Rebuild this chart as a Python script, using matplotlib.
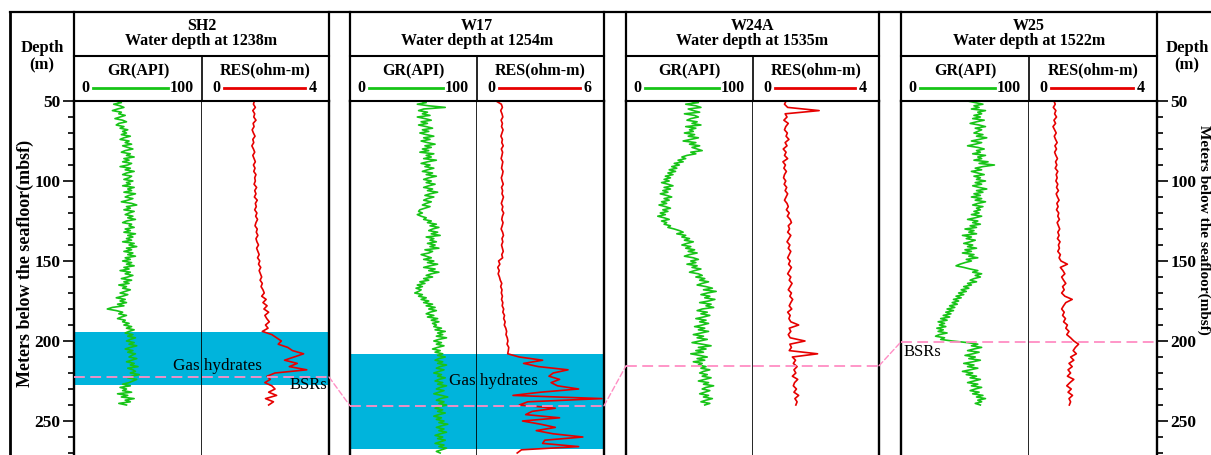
import numpy as np
import matplotlib.pyplot as plt
from matplotlib.patches import ConnectionPatch
from matplotlib.ticker import MultipleLocator

plt.rcParams['font.family'] = ['Liberation Serif', 'DejaVu Serif']
plt.rcParams['font.weight'] = 'bold'

# ---------------- data ----------------
wells = ['SH2', 'W17', 'W24A', 'W25']
water_depth = [1238, 1254, 1535, 1522]
res_max = [4, 6, 4, 4]
bsr_depth = [222.5, 240.5, 215.5, 200.5]
hydrate_top = [194.5, 208.0, None, None]
hydrate_base = [227.5, 267.5, None, None]

# GR sampled every 1 m, RES every 2 m (mbsf)
gr_depth_sh2 = np.arange(50, 241)
gr_depth_w17 = np.arange(50, 271)
gr_depth_w24a = np.arange(50, 241)
gr_depth_w25 = np.arange(50, 241)
res_depth_sh2 = np.arange(50, 241, 2)
res_depth_w17 = np.arange(50, 271, 2)
res_depth_w24a = np.arange(50, 241, 2)
res_depth_w25 = np.arange(50, 241, 2)

gr_sh2 = [33, 37, 31, 36, 39, 34, 30, 37, 35, 40,
          36, 32, 38, 41, 35, 33, 39, 36, 42, 38,
          41, 37, 44, 39, 36, 43, 40, 45, 38, 42,
          46, 40, 37, 44, 41, 47, 39, 43, 38, 45,
          42, 36, 44, 40, 47, 41, 38, 45, 43, 39,
          46, 41, 44, 38, 47, 42, 45, 39, 48, 43,
          40, 46, 42, 37, 45, 49, 41, 44, 39, 47,
          43, 40, 46, 42, 48, 41, 38, 45, 43, 47,
          40, 44, 39, 48, 42, 46, 41, 45, 38, 47,
          43, 49, 41, 45, 39, 46, 42, 48, 40, 44,
          38, 45, 41, 47, 39, 43, 36, 44, 40, 46,
          42, 37, 45, 39, 43, 35, 41, 38, 44, 40,
          36, 42, 38, 33, 40, 36, 41, 34, 39, 30,
          26, 33, 38, 35, 41, 37, 34, 40, 38, 43,
          39, 45, 41, 47, 43, 40, 46, 42, 48, 44,
          41, 47, 43, 49, 44, 40, 46, 42, 48, 45,
          43, 49, 45, 41, 47, 44, 50, 42, 46, 48,
          44, 51, 45, 42, 49, 46, 43, 38, 44, 36,
          41, 38, 45, 34, 42, 37, 47, 40, 44, 35,
          41]
res_sh2 = [1.65, 1.62, 1.68, 1.60, 1.66, 1.63, 1.70, 1.61, 1.64, 1.58,
           1.62, 1.67, 1.60, 1.63, 1.57, 1.62, 1.66, 1.60, 1.64, 1.68,
           1.62, 1.67, 1.63, 1.70, 1.66,
           1.68, 1.64, 1.72, 1.66, 1.70, 1.65, 1.74, 1.68, 1.71, 1.66,
           1.73, 1.69, 1.75, 1.70, 1.67, 1.74, 1.71, 1.76, 1.70, 1.73,
           1.78, 1.72, 1.76, 1.80, 1.75,
           1.82, 1.78, 1.85, 1.80, 1.84, 1.88, 1.83, 1.90, 1.86, 1.92,
           1.96, 1.88, 2.02, 1.92, 2.05, 1.95, 2.10, 1.98, 2.04, 2.12, 2.00, 2.08,
           1.90, 2.20, 2.35, 2.50, 2.40, 2.70, 2.85, 3.20, 2.90, 2.60, 3.00, 2.75, 3.30, 2.30,
           2.05, 2.15, 1.98, 2.20, 2.30, 2.10, 2.35, 2.00, 2.25, 2.10]

gr_w17 = [56, 60, 53, 62, 75, 58, 54, 61, 57, 63,
          53, 59, 64, 56, 61, 54, 60, 65, 57, 62,
          55, 60, 66, 58, 63, 56, 61, 67, 59, 64,
          57, 62, 55, 66, 60, 64, 58, 68, 61, 56,
          63, 59, 66, 61, 57, 65, 60, 68, 62, 58,
          64, 60, 67, 62, 58, 65, 61, 69, 63, 59,
          66, 61, 58, 64, 60, 57, 63, 59, 55, 54,
          57, 53, 56, 60, 58, 64, 61, 68, 63, 70,
          65, 62, 69, 64, 71, 60, 66, 63, 68, 61,
          67, 63, 70, 59, 65, 62, 56, 60, 64, 58,
          66, 61, 69, 63, 58, 67, 62, 70, 64, 60,
          65, 58, 62, 55, 59, 53, 57, 52, 56, 54,
          51, 57, 54, 60, 56, 62, 58, 65, 60, 67,
          62, 68, 63, 60, 66, 61, 69, 64, 70, 65,
          68, 66, 72, 67, 75, 69, 73, 68, 76, 70,
          66, 72, 68, 74, 69, 65, 71, 67, 73, 69,
          75, 70, 67, 73, 69, 76, 71, 68, 74, 70,
          66, 72, 69, 75, 70, 67, 73, 69, 76, 71,
          68, 74, 70, 66, 72, 77, 71, 68, 74, 70,
          76, 71, 67, 73, 69, 75, 70, 66, 72, 68,
          74, 70, 77, 72, 68, 74, 70, 76, 71, 67,
          73, 69, 75, 71, 67, 74, 70, 76, 72, 68,
          71]
res_w17 = [0.90, 1.15, 1.20, 1.12, 1.18, 1.22, 1.14, 1.20, 1.16, 1.23,
           1.18, 1.13, 1.20, 1.17, 1.24, 1.15, 1.21, 1.18, 1.14, 1.22,
           1.19, 1.16, 1.23, 1.20, 1.15,
           1.19, 1.24, 1.16, 1.21, 1.18, 1.25, 1.20, 1.15, 1.22, 1.18,
           1.26, 1.20, 1.17, 1.23, 1.19, 1.14, 1.21, 1.25, 1.18, 1.22,
           1.16, 1.20, 1.24, 1.17, 1.21,
           1.02, 1.08, 0.98, 1.05, 1.00, 1.06, 1.10, 1.17, 1.12, 1.18,
           1.15, 1.20, 1.16, 1.22, 1.19, 1.26, 1.22, 1.30, 1.26, 1.33,
           1.29, 1.36, 1.40, 1.37, 1.43,
           1.46, 1.42, 1.50, 1.48,
           1.45, 2.0, 3.1, 2.2, 2.9, 4.3, 3.6, 3.4, 3.9, 3.5, 3.8, 4.8,
           3.0, 1.7, 5.9, 2.4, 2.0, 3.7, 2.6, 2.3, 3.9, 2.15, 3.0, 3.7,
           2.8, 3.6, 5.0, 3.2, 3.1, 4.8, 2.1, 1.9]

gr_w24a = [50, 57, 47, 55, 59, 49, 53, 58, 46, 54,
           57, 51, 48, 56, 52, 59, 47, 55, 50, 53,
           46, 54, 49, 57, 51, 45, 55, 50, 58, 52,
           56, 60, 51, 55, 48, 44, 47, 41, 45, 38,
           42, 36, 40, 34, 39, 33, 37, 31, 35, 30,
           34, 28, 33, 37, 30, 35, 29, 33, 27, 32,
           36, 30, 34, 28, 32, 26, 31, 35, 29, 33,
           27, 31, 25, 30, 34, 28, 32, 30, 35, 33,
           38, 42, 45, 40, 47, 44, 50, 46, 53, 48,
           44, 51, 47, 54, 49, 56, 50, 46, 53, 57,
           51, 55, 48, 56, 52, 59, 54, 50, 57, 60,
           55, 62, 58, 65, 60, 56, 63, 68, 61, 71,
           64, 59, 66, 62, 70, 65, 58, 67, 63, 69,
           60, 56, 64, 59, 66, 61, 55, 63, 58, 65,
           60, 54, 62, 57, 65, 59, 53, 61, 56, 64,
           58, 52, 60, 67, 57, 63, 55, 61, 51, 58,
           64, 56, 62, 53, 60, 57, 63, 59, 66, 61,
           58, 64, 60, 67, 62, 57, 65, 61, 69, 63,
           60, 66, 62, 58, 65, 61, 68, 63, 59, 66,
           62]
res_w24a = [1.05, 1.00, 1.10, 2.10, 1.02, 1.08, 0.98, 1.12, 1.04, 1.00,
            1.09, 1.05, 1.14, 1.02, 1.08, 0.96, 1.05, 1.00, 1.10, 0.95,
            1.03, 0.98, 1.06, 1.00, 0.97,
            1.04, 0.99, 1.07, 1.02, 1.10, 1.05, 1.00, 1.08, 1.12, 1.06,
            1.15, 1.09, 1.18, 1.22, 1.12, 1.16, 1.10, 1.20, 1.14, 1.08,
            1.17, 1.12, 1.20, 1.15, 1.10,
            1.18, 1.13, 1.22, 1.16, 1.10, 1.20, 1.15, 1.24, 1.18, 1.12,
            1.22, 1.17, 1.26, 1.20, 1.15, 1.23, 1.10, 1.18, 1.14, 1.20,
            1.45, 1.15, 1.20, 1.12, 1.18, 1.65, 1.17, 1.22, 1.15, 2.05, 1.25,
            1.35, 1.28, 1.40, 1.30, 1.36, 1.25, 1.42, 1.32, 1.28, 1.38,
            1.30, 1.45, 1.33, 1.40, 1.36]

gr_w25 = [52, 58, 64, 57, 61, 55, 66, 60, 63, 57,
          62, 56, 65, 59, 54, 61, 66, 58, 63, 60,
          57, 64, 59, 67, 61, 55, 63, 58, 52, 60,
          65, 59, 62, 56, 66, 60, 63, 57, 68, 61,
          73, 64, 58, 63, 55, 60, 65, 57, 62, 59,
          66, 58, 63, 56, 61, 67, 59, 64, 57, 62,
          55, 63, 58, 66, 60, 56, 64, 59, 62, 57,
          61, 55, 63, 58, 52, 60, 56, 62, 54, 59,
          50, 57, 53, 59, 48, 55, 51, 58, 54, 49,
          56, 52, 59, 50, 55, 48, 57, 53, 60, 51,
          55, 50, 46, 43, 49, 54, 60, 56, 63, 58,
          62, 57, 54, 59, 52, 55, 49, 53, 47, 51,
          45, 49, 43, 47, 41, 45, 40, 44, 38, 42,
          36, 41, 35, 39, 33, 38, 31, 36, 29, 34,
          30, 35, 28, 33, 29, 36, 30, 27, 34, 31,
          40, 52, 60, 55, 63, 57, 52, 61, 56, 50,
          58, 53, 62, 56, 49, 57, 52, 60, 54, 48,
          56, 51, 59, 54, 62, 57, 52, 60, 55, 63,
          58, 54, 61, 56, 64, 59, 66, 60, 63, 58,
          62]
res_w25 = [0.78, 0.82, 0.76, 0.84, 0.80, 0.86, 0.78, 0.83, 0.75, 0.80,
           0.85, 0.79, 0.83, 0.88, 0.81, 0.86, 0.80, 0.84, 0.89, 0.83,
           0.87, 0.82, 0.90, 0.85, 0.88,
           0.84, 0.90, 0.86, 0.92, 0.85, 0.89, 0.94, 0.87, 0.91, 0.86,
           0.93, 0.90, 0.95, 0.88, 0.92, 0.96, 0.90, 0.94, 0.89, 0.97,
           0.92, 0.95, 0.90, 0.98, 0.94,
           1.00, 1.20, 0.98, 1.06, 1.12, 1.02, 1.08, 1.15, 1.05, 1.10,
           1.02, 1.12, 1.35, 1.15, 1.08, 1.02, 1.10, 1.05, 1.14, 1.08,
           1.20, 1.15, 1.25, 1.18, 1.30,
           1.40, 1.55, 1.45, 1.38, 1.48, 1.30, 1.40, 1.25, 1.35, 1.22,
           1.30, 1.20, 1.40, 1.28, 1.18, 1.32, 1.22, 1.36, 1.25, 1.30, 1.26]

gr_depths = [gr_depth_sh2, gr_depth_w17, gr_depth_w24a, gr_depth_w25]
res_depths = [res_depth_sh2, res_depth_w17, res_depth_w24a, res_depth_w25]
grs = [gr_sh2, gr_w17, gr_w24a, gr_w25]
ress = [res_sh2, res_w17, res_w24a, res_w25]

# ---------------- layout (pixels) ----------------
W, H = 1211, 455
TOP, HEAD1, HEAD2 = 12, 56, 101
panels = [(74, 202, 329), (350, 477, 604), (626, 753, 879), (901, 1029, 1157)]
d_top = 50
d_bot = 50 + (H - HEAD2) / 1.6

GREEN = '#17c417'
RED = '#e60000'
BLUE = '#00b4dc'
PINK = '#ff8ec4'


def frac(x0, y0, x1, y1):
    return [x0 / W, 1 - y1 / H, (x1 - x0) / W, (y1 - y0) / H]


fig = plt.figure(figsize=(W / 100, H / 100), dpi=100)

bg = fig.add_axes([0, 0, 1, 1])
bg.set_xlim(0, W)
bg.set_ylim(H, 0)
bg.axis('off')
bg.plot([10, W], [TOP, TOP], color='k', lw=1.6)
bg.plot([10, 10], [TOP, H], color='k', lw=2)
for xc in (42, 1187):
    bg.text(xc, 48, 'Depth', ha='center', va='center', fontsize=12)
    bg.text(xc, 65, '(m)', ha='center', va='center', fontsize=12)

tracks = []
for i, (x0, xm, x1) in enumerate(panels):
    # header boxes
    bg.plot([x0, x0], [TOP, HEAD2], color='k', lw=1.6)
    bg.plot([x1, x1], [TOP, HEAD2], color='k', lw=1.6)
    bg.plot([x0, x1], [HEAD1, HEAD1], color='k', lw=1.5)
    bg.plot([xm, xm], [HEAD1, HEAD2], color='k', lw=1.2)
    bg.text((x0 + x1) / 2, 26, wells[i], ha='center', va='center', fontsize=11.5)
    bg.text((x0 + x1) / 2, 41, f'Water depth at {water_depth[i]}m',
            ha='center', va='center', fontsize=11.5)
    bg.text((x0 + xm) / 2, 71, 'GR(API)', ha='center', va='center', fontsize=11.5)
    bg.text(x0 + 11, 88, '0', ha='center', va='center', fontsize=11.5)
    bg.plot([x0 + 19, xm - 34], [88, 88], color=GREEN, lw=2)
    bg.text(xm - 20, 88, '100', ha='center', va='center', fontsize=11.5)
    bg.text((xm + x1) / 2, 70, 'RES(ohm-m)', ha='center', va='center', fontsize=11.5)
    bg.text(xm + 14, 88, '0', ha='center', va='center', fontsize=11.5)
    bg.plot([xm + 22, x1 - 24], [88, 88], color=RED, lw=2)
    bg.text(x1 - 16, 88, str(res_max[i]), ha='center', va='center', fontsize=11.5)

    ax_gr = fig.add_axes(frac(x0, HEAD2, xm, H))
    ax_res = fig.add_axes(frac(xm, HEAD2, x1, H))
    for ax, xmax in ((ax_gr, 100), (ax_res, res_max[i])):
        ax.set_xlim(0, xmax)
        ax.set_ylim(d_bot, d_top)
        ax.set_xticks([])
        ax.tick_params(left=False, labelleft=False, which='both')
        ax.spines['bottom'].set_visible(False)
        ax.spines['top'].set_linewidth(1.5)
        if hydrate_top[i] is not None:
            ax.axhspan(hydrate_top[i], hydrate_base[i], color=BLUE, lw=0, zorder=0)
        ax.axhline(bsr_depth[i], color=PINK, lw=1.3, ls=(0, (6, 3)), zorder=3)
    ax_gr.spines['left'].set_linewidth(1.7)
    ax_gr.spines['right'].set_linewidth(1.2)
    ax_res.spines['left'].set_visible(False)
    ax_res.spines['right'].set_linewidth(1.7)

    ax_gr.plot(grs[i], gr_depths[i], color=GREEN, lw=1.2, zorder=2)
    ax_res.plot(ress[i], res_depths[i], color=RED, lw=1.2, zorder=2)
    tracks.append((ax_gr, ax_res))

# depth axes
left_ax = tracks[0][0]
right_ax = tracks[-1][1]
for ax in (left_ax, right_ax):
    ax.yaxis.set_major_locator(MultipleLocator(50))
    ax.yaxis.set_minor_locator(MultipleLocator(10))
left_ax.tick_params(which='both', left=True, labelleft=True, direction='out',
                    width=1.2, labelsize=12.5, pad=2)
left_ax.tick_params(which='major', length=8)
left_ax.tick_params(which='minor', length=4.5)
right_ax.yaxis.tick_right()
right_ax.tick_params(which='both', right=True, labelright=True, direction='out',
                     width=1.2, labelsize=12.5, pad=1.5)
right_ax.tick_params(which='major', length=8)
right_ax.tick_params(which='minor', length=4.5)
left_ax.text(-0.383, 0.542, 'Meters below the seafloor(mbsf)', transform=left_ax.transAxes,
             rotation=90, ha='center', va='center', fontsize=13)
right_ax.text(1.366, 0.636, 'Meters below the seafloor(mbsf)', transform=right_ax.transAxes,
              rotation=270, ha='center', va='center', fontsize=11)

# BSR connectors between neighbouring wells
for i in range(len(wells) - 1):
    con = ConnectionPatch(xyA=(1, bsr_depth[i]), coordsA=tracks[i][1].get_yaxis_transform(),
                          xyB=(0, bsr_depth[i + 1]), coordsB=tracks[i + 1][0].get_yaxis_transform(),
                          color=PINK, lw=1.0, ls=(0, (4, 2)))
    fig.add_artist(con)

# annotations
fig.text(112, 215.6, 'Gas hydrates', transform=tracks[0][0].transData,
         ha='center', va='center', fontsize=12.3, fontweight='normal')
fig.text(3.34, 227.5, 'BSRs', transform=tracks[0][1].transData,
         ha='center', va='center', fontsize=12, fontweight='normal')
fig.text(113, 225, 'Gas hydrates', transform=tracks[1][0].transData,
         ha='center', va='center', fontsize=12.3, fontweight='normal')
fig.text(17, 207, 'BSRs', transform=tracks[3][0].transData,
         ha='center', va='center', fontsize=12, fontweight='normal')

fig.savefig('out.png', dpi=100)
